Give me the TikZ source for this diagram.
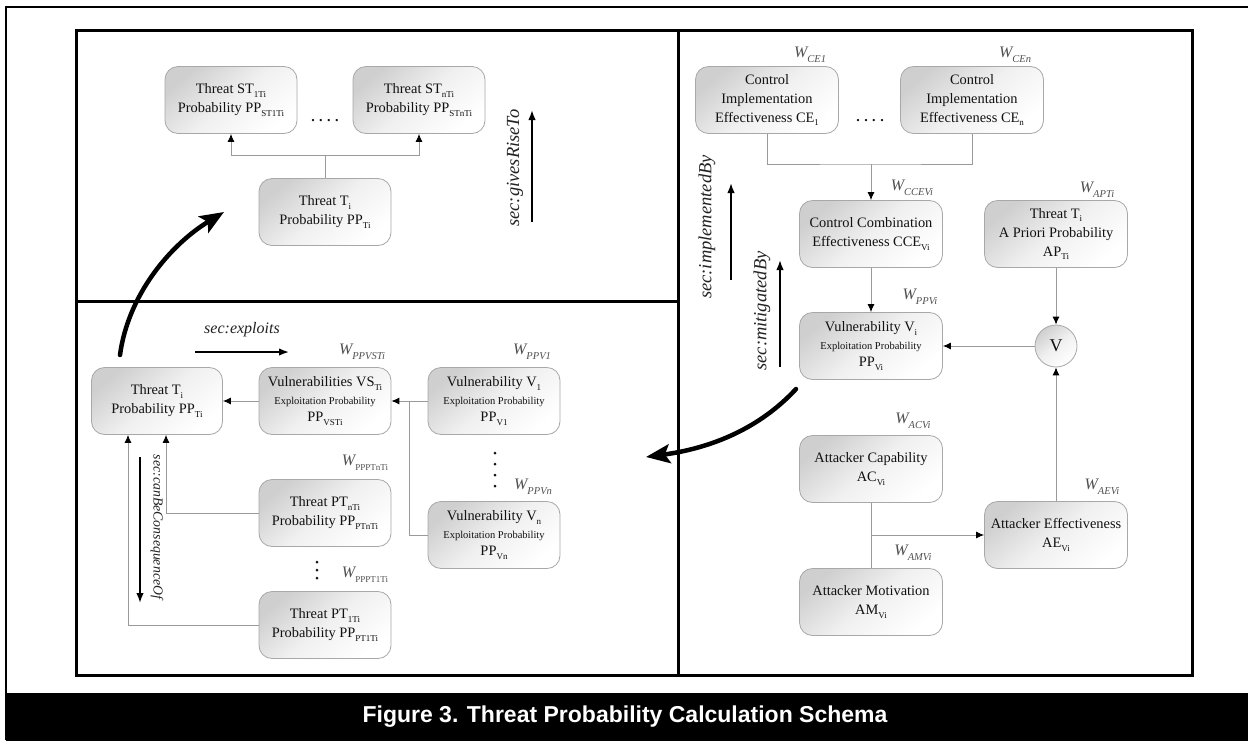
\documentclass[tikz,border=0pt]{standalone}
\usepackage{fontspec}
\setmainfont{Liberation Serif}
\newfontfamily\capfont{Liberation Sans}
\usetikzlibrary{arrows.meta}

\definecolor{boxline}{HTML}{A8A8A8}
\definecolor{boxshade}{HTML}{CFCFCF}
\definecolor{boxmid}{HTML}{F0F0F0}
\definecolor{boxtext}{HTML}{111111}
\definecolor{linegray}{HTML}{9A9A9A}
\definecolor{wgray}{HTML}{505050}
\definecolor{lblgray}{HTML}{222222}

% subscripts inside boxes and of the weight labels
\newcommand\lsub[1]{\raisebox{-0.25em}{\fontsize{9}{9}\selectfont\upshape #1}}
\newcommand\wsub[1]{\raisebox{-0.3em}{\fontsize{10.5}{10.5}\selectfont\itshape #1}}
\newcommand\wsubu[1]{\raisebox{-0.3em}{\fontsize{9}{9}\selectfont\upshape #1}}
\newcommand\explp{{\fontsize{10.5}{10.5}\selectfont Exploitation Probability}}

\begin{document}
\begin{tikzpicture}[x=1pt,y=-1pt,
  box/.style={draw=boxline, line width=0.8pt, rounded corners=13pt,
    top color=boxshade, bottom color=white, middle color=boxmid, shading angle=40,
    align=center, text=boxtext, inner sep=0pt, minimum height=67pt,
    font=\fontsize{14.4}{19}\selectfont},
  lbox/.style={box, minimum width=132pt},
  rbox/.style={box, minimum width=143pt},
  vbox/.style={lbox, font=\fontsize{14.4}{17.5}\selectfont},
  wl/.style={text=wgray, inner sep=0pt, font=\fontsize{16}{16}\selectfont\itshape},
  conn/.style={draw=linegray, line width=0.9pt},
  arr/.style={conn, -{Latex[length=8pt,width=7pt,color=black]}},
  secarr/.style={draw=black, line width=1.6pt, -{Latex[length=10pt,width=7.5pt]}},
  seclbl/.style={text=lblgray, inner sep=0pt},
  bigarr/.style={draw=black, line width=4.5pt, line cap=round,
    -{Stealth[length=24pt,width=19pt,inset=5pt]}},
  dotsl/.style={inner sep=0pt, text=boxtext, font=\fontsize{14}{8}\selectfont\bfseries},
  vdot/.style={circle, fill=boxtext, inner sep=0pt, minimum size=3pt}
]
\useasboundingbox (0,0) rectangle (1248,740);
\fill[white] (0,0) rectangle (1248,740);

% page frame and caption bar
\draw[line width=2pt] (6,740) -- (6,6.5) -- (1250,6.5);
\fill[black] (6,693) rectangle (1250,741);
\node[text=white, inner sep=0pt, font=\capfont\bfseries\fontsize{23}{23}\selectfont]
  (caption) at (625,717) {Figure 3. Threat Probability Calculation Schema};

% panels
\draw[line width=3pt] (76.5,30.5) rectangle (1192,675);
\draw[line width=3pt] (678,30.5) -- (678,675);
\draw[line width=3pt] (76.5,301) -- (678,301);

% ---------- upper left: gives rise to ----------
\node[lbox] (st1) at (231,100) {Threat ST\lsub{1Ti}\\Probability PP\lsub{ST1Ti}};
\node[lbox] (stn) at (419,100) {Threat ST\lsub{nTi}\\Probability PP\lsub{STnTi}};
\node[lbox] (tit) at (325,212) {Threat T\lsub{i}\\Probability PP\lsub{Ti}};
\node[dotsl] (d1) at (325,121) {.\hspace{4.5pt}.\hspace{4.5pt}.\hspace{4.5pt}.};
\coordinate (jt) at (325,155);
\draw[conn] (tit.north) -- (jt);
\draw[arr] (jt) -| (st1.south);
\draw[arr] (jt) -| (stn.south);
\node[seclbl, rotate=90, font=\fontsize{18.5}{18.5}\selectfont\itshape] (gives) at (515,168) {sec:givesRiseTo};
\coordinate (g0) at (532,222);
\coordinate (g1) at (532,110);
\draw[secarr] (g0) -- (g1);

% ---------- right: mitigation ----------
\node[rbox] (ce1) at (767,100) {Control\\Implementation\\Effectiveness CE\lsub{1}};
\node[rbox] (cen) at (972,100) {Control\\Implementation\\Effectiveness CE\lsub{n}};
\node[dotsl] (d2) at (870,121) {.\hspace{4.5pt}.\hspace{4.5pt}.\hspace{4.5pt}.};
\node[rbox] (cce) at (871,234) {Control Combination\\Effectiveness CCE\lsub{Vi}};
\node[rbox] (apt) at (1056,234) {Threat T\lsub{i}\\A Priori Probability\\AP\lsub{Ti}};
\node[rbox, font=\fontsize{14.4}{17.5}\selectfont] (vi) at (871,346) {Vulnerability V\lsub{i}\\\explp\\PP\lsub{Vi}};
\node[draw=boxline, line width=0.8pt, circle, minimum size=42pt, inner sep=0pt,
  top color=boxshade, bottom color=white, middle color=boxmid, shading angle=40,
  text=boxtext, font=\fontsize{18}{18}\selectfont] (vor) at (1056,346) {V};
\node[rbox] (ac) at (871,469) {Attacker Capability\\AC\lsub{Vi}};
\node[rbox] (am) at (871,602) {Attacker Motivation\\AM\lsub{Vi}};
\node[rbox] (ae) at (1056,535) {Attacker Effectiveness\\AE\lsub{Vi}};

\node[wl] (wce1) at (810,55) {W\wsub{CE1}};
\node[wl] (wcen) at (1015,55) {W\wsub{CEn}};
\node[wl] (wcce) at (912,188) {W\wsub{CCEVi}};
\node[wl] (wapt) at (1097,190) {W\wsub{APTi}};
\node[wl] (wppvi) at (920,297) {W\wsub{PPVi}};
\node[wl] (wac) at (913,421) {W\wsub{ACVi}};
\node[wl] (wam) at (913,553) {W\wsub{AMVi}};
\node[wl] (wae) at (1102,487) {W\wsub{AEVi}};

\coordinate (jc) at (871,164);
\draw[conn] (ce1.south) |- (jc) -| (cen.south);
\draw[arr] (jc) -- (cce.north);
\draw[arr] (cce.south) -- (vi.north);
\draw[arr] (apt.south) -- (vor.north);
\draw[arr] (vor.west) -- (vi.east);
\draw[arr] (ae.north) -- (vor.south);
\draw[conn] (ac.south) -- (am.north);
\coordinate (ja) at (871,535);
\draw[arr] (ja) -- (ae.west);

\node[seclbl, rotate=90, font=\fontsize{18.5}{18.5}\selectfont\itshape] (impl) at (707,227) {sec:implementedBy};
\coordinate (i0) at (731,280);
\coordinate (i1) at (731,183);
\draw[secarr] (i0) -- (i1);
\node[seclbl, rotate=90, font=\fontsize{18.5}{18.5}\selectfont\itshape] (mitig) at (762,311) {sec:mitigatedBy};
\coordinate (m0) at (780,367);
\coordinate (m1) at (780,260);
\draw[secarr] (m0) -- (m1);

% ---------- lower left: exploits ----------
\node[lbox, minimum width=131pt] (tib) at (157,401) {Threat T\lsub{i}\\Probability PP\lsub{Ti}};
\node[vbox] (vst) at (325,401) {Vulnerabilities VS\lsub{Ti}\\\explp\\PP\lsub{VSTi}};
\node[vbox] (v1) at (494,401) {Vulnerability V\lsub{1}\\\explp\\PP\lsub{V1}};
\node[vbox] (vn) at (494,535) {Vulnerability V\lsub{n}\\\explp\\PP\lsub{Vn}};
\node[lbox] (ptn) at (325,513) {Threat PT\lsub{nTi}\\Probability PP\lsub{PTnTi}};
\node[lbox] (pt1) at (325,625) {Threat PT\lsub{1Ti}\\Probability PP\lsub{PT1Ti}};

% vertical ellipses
\foreach \yy [count=\k] in {453,464,475,486} \node[vdot] (vd\k) at (495,\yy) {};
\foreach \yy [count=\k] in {562,570,578} \node[vdot] (pd\k) at (317,\yy) {};

\node[wl] (wvst) at (362,352) {W\wsub{PPVSTi}};
\node[wl] (wv1) at (532,352) {W\wsub{PPV1}};
\node[wl] (wvn) at (533,487) {W\wsub{PPVn}};
\node[wl] (wptn) at (365,463) {W\wsubu{PPPTnTi}};
\node[wl] (wpt1) at (365,575) {W\wsubu{PPPT1Ti}};

\draw[arr] (vst.west) -- (tib.east);
\draw[arr] (v1.west) -- (vst.east);
\coordinate (jv) at (409,401);
\draw[conn] (vn.west) -| (jv);
\draw[arr] (ptn.west) -| ([xshift=9pt]tib.south);
\draw[arr] (pt1.west) -| ([xshift=-29pt]tib.south);

\node[seclbl, font=\fontsize{16}{16}\selectfont\itshape] (expl) at (242,330) {sec:exploits};
\coordinate (e0) at (195,352);
\coordinate (e1) at (289,352);
\draw[secarr] (e0) -- (e1);
\node[seclbl, rotate=-90, font=\fontsize{13.8}{13.8}\selectfont\itshape] (conseq) at (157,527) {sec:canBeConsequenceOf};
\coordinate (c0) at (140,457);
\coordinate (c1) at (140,603);
\draw[secarr] (c0) -- (c1);

% ---------- flow between the panels ----------
\coordinate (f0) at (120,355);
\coordinate (f1) at (224,212);
\draw[bigarr] (f0) .. controls (128,295) and (170,245) .. (f1);
\coordinate (h0) at (796,389);
\coordinate (h1) at (646,457);
\draw[bigarr] (h0) .. controls (760,428) and (712,448) .. (h1);
\end{tikzpicture}
\end{document}
